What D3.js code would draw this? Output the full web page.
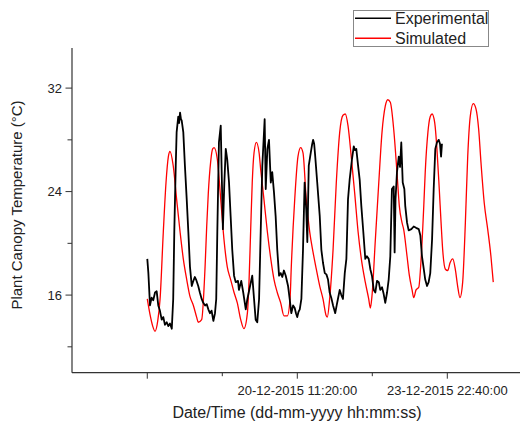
<!DOCTYPE html>
<html>
<head>
<meta charset="utf-8">
<script src="https://cdn.jsdelivr.net/npm/d3@7"></script>
<style>
    body { margin: 0; background: #fff; }
    svg { display: block; font-family: 'Liberation Sans', Arial, sans-serif; }
</style>
</head>
<body>
<div id="chart"></div>
<script>
// hours are counted from 17-12-2015 00:00:00
const startTime = new Date(2015, 11, 17, 0, 0, 0);

const seriesNames = ['Experimental', 'Simulated'];

const xMajorTickHours = [0, 83.3333, 166.6667];
const xMajorTickLabels = ['', '20-12-2015 11:20:00', '23-12-2015 22:40:00'];
const xMinorTickHours = [41.6667, 125];

const yMajorTicks = [16, 24, 32];
const yMinorTicks = [12, 20, 28];

// [hour, temperature °C]
const experimental = [
    [0, 18.8], [0.6, 17.7], [1.5, 15.2], [2.4, 15.8], [3.3, 15.6], [4.3, 16.2], [5.2, 16.3],
    [6.1, 15.2], [7.0, 14.8], [8.0, 14.1], [8.9, 14.3], [9.8, 13.7], [10.8, 13.9], [11.7, 13.6],
    [12.6, 13.8], [13.6, 13.4], [14.4, 15.7], [15.0, 20.9], [15.8, 26.0], [16.3, 28.6],
    [17.2, 29.8], [17.7, 29.3], [18.2, 30.1], [18.7, 29.6], [19.1, 29.5], [20.0, 28.6],
    [20.9, 26.0], [21.9, 23.4], [22.8, 20.9], [23.7, 18.2], [24.7, 16.7], [25.6, 17.1],
    [26.4, 17.4], [27.1, 17.2], [28.3, 16.7], [29.2, 16.2], [30.2, 15.7], [31.1, 15.4],
    [32.1, 15.2], [33.0, 15.3], [33.9, 14.9], [34.8, 14.6], [35.7, 14.8], [36.7, 14.0],
    [37.6, 14.6], [38.3, 15.7], [38.9, 20.9], [39.8, 27.8], [40.8, 29.1], [41.3, 25.7],
    [42.0, 21.1], [42.8, 24.7], [43.6, 27.3], [44.4, 26.5], [45.4, 24.7], [46.3, 22.1],
    [47.2, 19.5], [48.2, 17.5], [49.1, 17.0], [50.4, 17.1], [50.9, 16.4], [52.2, 17.1],
    [53.3, 16.2], [54.7, 14.9], [55.6, 15.7], [57.1, 16.7], [58.3, 17.5], [59.3, 15.7],
    [60.2, 14.1], [61.1, 13.9], [62.1, 15.7], [63.0, 20.9], [63.9, 26.0], [65.2, 29.6],
    [65.8, 24.2], [66.7, 27.3], [67.6, 28.0], [68.6, 24.7], [69.4, 25.5], [70.4, 23.9],
    [71.3, 22.1], [72.2, 19.5], [73.2, 17.5], [74.1, 17.7], [75.0, 17.4], [75.9, 17.9],
    [76.9, 17.5], [78.2, 16.7], [79.1, 15.7], [80.0, 14.6], [81.0, 15.2], [81.9, 15.0],
    [82.6, 14.6], [83.3, 14.3], [84.0, 14.7], [84.7, 14.9], [85.6, 15.7], [86.5, 19.5],
    [87.4, 24.7], [88.3, 22.6], [88.9, 20.1], [89.7, 26.0], [90.8, 27.0], [91.5, 27.6],
    [92.1, 28.0], [92.7, 27.7], [93.3, 26.7], [94.4, 24.7], [95.8, 22.1], [96.7, 19.5],
    [97.6, 18.5], [98.6, 17.7], [99.5, 17.6], [100.4, 17.2], [101.3, 16.2], [102.2, 15.8],
    [103.2, 15.2], [104.4, 14.6], [105.2, 15.2], [105.9, 15.7], [106.9, 16.4], [107.8, 16.0],
    [108.7, 15.7], [109.7, 17.7], [110.6, 18.8], [111.5, 23.4], [112.4, 24.9], [113.7, 26.5],
    [114.7, 27.5], [115.4, 27.2], [116.1, 27.3], [117.1, 26.0], [118.0, 24.9], [118.9, 22.9],
    [120.0, 20.9], [121.1, 18.8], [122.0, 19.0], [123.0, 18.8], [123.9, 18.0], [124.8, 17.5],
    [125.8, 16.4], [126.7, 16.2], [127.6, 17.1], [128.6, 17.0], [129.4, 16.4], [130.4, 16.6],
    [131.3, 16.1], [132.2, 15.4], [133.2, 16.2], [134.1, 17.2], [135.0, 19.0], [135.9, 24.2],
    [136.9, 24.4], [137.4, 19.3], [137.9, 23.4], [138.7, 25.5], [139.7, 26.7], [140.4, 25.9],
    [141.1, 27.8], [141.9, 24.7], [142.8, 24.2], [143.3, 22.9], [144.3, 21.6], [145.2, 21.0],
    [146.7, 21.1], [148.0, 21.3], [149.3, 21.2], [150.8, 21.1], [151.7, 20.6], [152.6, 19.0],
    [153.6, 18.0], [154.4, 17.2], [155.4, 16.7], [156.3, 17.0], [157.2, 17.7], [158.2, 20.3],
    [159.1, 24.2], [160.0, 27.3], [160.9, 27.8], [161.9, 28.0], [162.6, 27.7], [163.2, 26.7],
    [163.7, 27.7]
];

const simulated = [
    [0, 15.7], [1.5, 14.5], [3.0, 13.6], [4.3, 13.2], [5.8, 14.0], [7.1, 15.7], [8.9, 20.9],
    [10.4, 24.7], [11.7, 26.7], [12.6, 27.1], [14.4, 26.0], [16.3, 23.4], [18.2, 20.9],
    [20.0, 18.8], [21.9, 17.2], [23.7, 15.9], [25.6, 15.2], [27.4, 14.3], [28.3, 13.9],
    [30.2, 14.1], [32.1, 18.2], [33.0, 21.3], [33.9, 23.9], [35.2, 26.3], [36.3, 27.3],
    [37.1, 27.4], [38.9, 26.5], [40.8, 23.4], [42.6, 20.3], [44.4, 18.2], [46.3, 17.2],
    [48.2, 16.2], [50.0, 15.4], [51.9, 14.1], [53.7, 13.4], [55.6, 14.6], [56.5, 17.0],
    [57.4, 20.9], [58.3, 24.7], [59.3, 27.0], [60.6, 27.8], [62.1, 27.0], [63.0, 25.7],
    [64.8, 23.4], [66.7, 20.9], [68.6, 18.8], [70.4, 17.2], [72.2, 16.2], [74.1, 15.4],
    [75.9, 14.4], [77.8, 14.4], [79.3, 15.7], [80.0, 18.2], [81.9, 23.4], [83.7, 26.7],
    [85.2, 27.4], [86.5, 27.0], [88.3, 23.4], [90.2, 20.9], [92.1, 19.3], [93.9, 18.0],
    [95.8, 16.7], [97.6, 15.7], [99.4, 14.4], [100.0, 14.3], [101.3, 15.7], [103.2, 19.5],
    [105.0, 24.7], [106.9, 28.6], [108.7, 29.9], [110.0, 30.0], [111.5, 29.1], [113.3, 26.7],
    [115.2, 23.9], [117.1, 20.9], [118.9, 18.8], [121.1, 17.0], [123.0, 15.7], [123.9, 15.0],
    [124.8, 15.9], [126.7, 20.3], [128.6, 24.7], [130.4, 28.6], [132.2, 30.6], [133.6, 31.1],
    [135.0, 30.9], [136.9, 28.8], [138.7, 25.5], [140.0, 22.9], [141.5, 21.6], [142.4, 21.1],
    [144.3, 19.0], [145.6, 17.5], [147.1, 16.4], [148.0, 15.8], [149.3, 16.4], [150.8, 16.6],
    [152.2, 19.0], [153.6, 22.9], [154.4, 25.5], [155.9, 28.6], [157.2, 29.8], [158.2, 30.0],
    [159.7, 29.3], [160.9, 27.3], [162.2, 24.2], [163.2, 21.6], [164.1, 19.5], [165.6, 18.0],
    [166.9, 17.9], [168.2, 18.5], [169.7, 18.8], [171.1, 18.0], [172.4, 16.7], [173.7, 15.8],
    [175.2, 17.0], [176.7, 21.6], [178.0, 26.7], [179.4, 29.8], [181.1, 30.8], [182.6, 30.4],
    [184.1, 28.8], [185.4, 26.2], [187.2, 23.1], [189.1, 21.1], [190.9, 19.0], [192.2, 17.0]
];

const width = 521;
const height = 423;

const hourToDate = (h) => new Date(startTime.getTime() + h * 3600 * 1000);

const svg = d3.select('#chart')
    .append('svg')
    .attr('width', width)
    .attr('height', height);

const x = d3.scaleTime()
    .domain([hourToDate(-41.83), hourToDate(207.05)])
    .range([72, 520]);

const y = d3.scaleLinear()
    .domain([10, 35.1])
    .range([372.7, 48]);

const axisColor = '#333';
const textColor = '#222';

/* x axis */
const xAxis = svg.append('g')
    .attr('transform', `translate(0, ${y(10)})`);
xAxis.append('line')
    .attr('x1', x.range()[0])
    .attr('x2', x.range()[1])
    .attr('stroke', axisColor)
    .attr('stroke-width', 1.2);
xAxis.selectAll('.major')
    .data(xMajorTickHours)
    .enter().append('line')
    .attr('x1', (d) => x(hourToDate(d)))
    .attr('x2', (d) => x(hourToDate(d)))
    .attr('y2', 6)
    .attr('stroke', axisColor);
xAxis.selectAll('.minor')
    .data(xMinorTickHours)
    .enter().append('line')
    .attr('x1', (d) => x(hourToDate(d)))
    .attr('x2', (d) => x(hourToDate(d)))
    .attr('y2', 3.5)
    .attr('stroke', axisColor);
xAxis.selectAll('.lbl')
    .data(xMajorTickHours)
    .enter().append('text')
    .attr('x', (d) => x(hourToDate(d)))
    .attr('y', 22)
    .attr('text-anchor', 'middle')
    .attr('font-size', 13)
    .attr('fill', textColor)
    .text((d, i) => xMajorTickLabels[i]);

svg.append('text')
    .attr('x', 297)
    .attr('y', 418)
    .attr('text-anchor', 'middle')
    .attr('font-size', 16)
    .attr('fill', textColor)
    .text('Date/Time (dd-mm-yyyy hh:mm:ss)');

/* y axis */
const yAxis = svg.append('g')
    .attr('transform', `translate(${x.range()[0]}, 0)`);
yAxis.append('line')
    .attr('y1', y.range()[0])
    .attr('y2', y.range()[1])
    .attr('stroke', axisColor)
    .attr('stroke-width', 1.2);
yAxis.selectAll('.major')
    .data(yMajorTicks)
    .enter().append('line')
    .attr('y1', (d) => y(d))
    .attr('y2', (d) => y(d))
    .attr('x2', -6.5)
    .attr('stroke', axisColor);
yAxis.selectAll('.minor')
    .data(yMinorTicks)
    .enter().append('line')
    .attr('y1', (d) => y(d))
    .attr('y2', (d) => y(d))
    .attr('x2', -4.5)
    .attr('stroke', axisColor);
yAxis.selectAll('.lbl')
    .data(yMajorTicks)
    .enter().append('text')
    .attr('x', -10)
    .attr('y', (d) => y(d))
    .attr('dy', '0.35em')
    .attr('text-anchor', 'end')
    .attr('font-size', 13)
    .attr('fill', textColor)
    .text((d) => d);

svg.append('text')
    .attr('transform', 'translate(22, 205) rotate(-90)')
    .attr('text-anchor', 'middle')
    .attr('font-size', 15)
    .attr('fill', textColor)
    .text('Plant Canopy Temperature (°C)');

/* series */
const line = d3.line()
    .x((d) => x(hourToDate(d[0])))
    .y((d) => y(d[1]));

svg.append('path')
    .datum(simulated)
    .attr('fill', 'none')
    .attr('stroke', '#ff0000')
    .attr('stroke-width', 1.3)
    .attr('d', line.curve(d3.curveMonotoneX));

svg.append('path')
    .datum(experimental)
    .attr('fill', 'none')
    .attr('stroke', '#000')
    .attr('stroke-width', 1.8)
    .attr('stroke-linejoin', 'round')
    .attr('d', line.curve(d3.curveLinear));

/* legend */
const legend = svg.append('g');
legend.append('rect')
    .attr('x', 353.5)
    .attr('y', 10.5)
    .attr('width', 135)
    .attr('height', 36)
    .attr('fill', '#fff')
    .attr('stroke', '#888');
const legendColors = ['#000', '#ff0000'];
seriesNames.forEach((name, i) => {
    const ly = 18.3 + i * 20;
    legend.append('line')
        .attr('x1', 355)
        .attr('x2', 391)
        .attr('y1', ly)
        .attr('y2', ly)
        .attr('stroke', legendColors[i])
        .attr('stroke-width', 1.5);
    legend.append('text')
        .attr('x', 395)
        .attr('y', ly + 6)
        .attr('font-size', 16)
        .attr('fill', textColor)
        .text(name);
});
</script>
</body>
</html>
